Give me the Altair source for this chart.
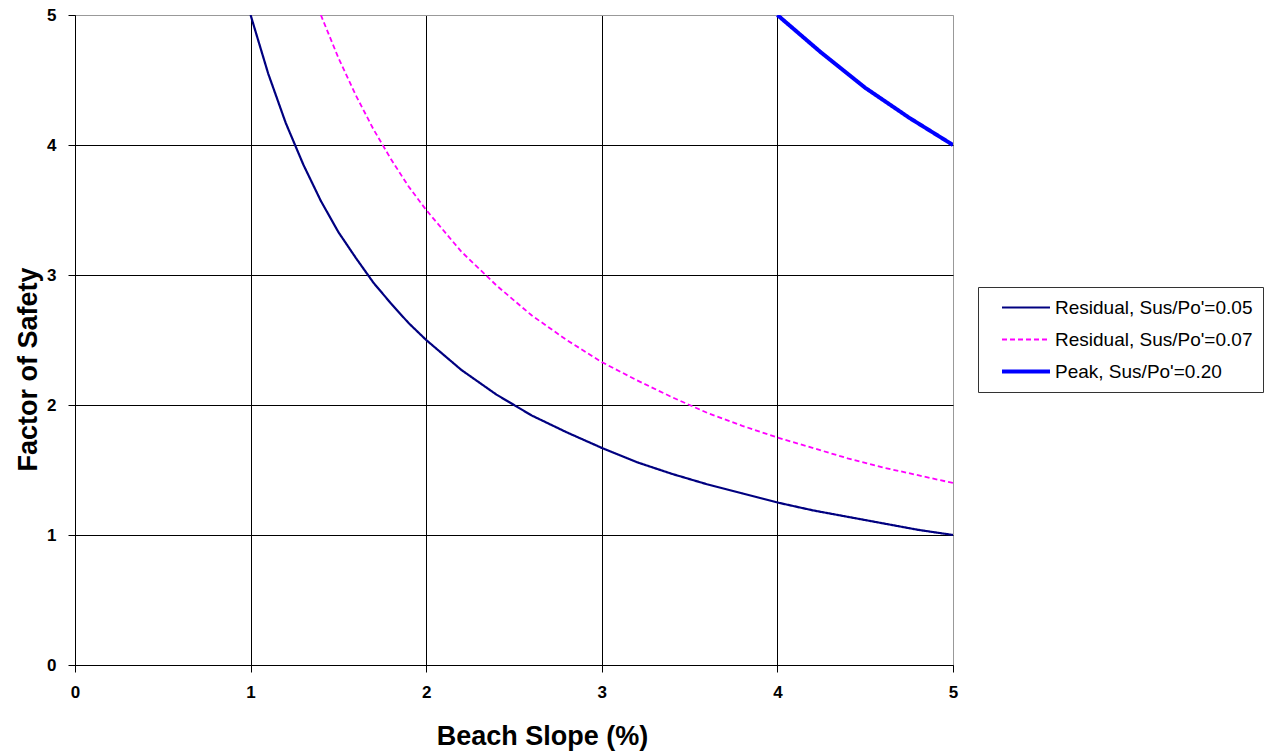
import altair as alt
import pandas as pd

# Factor of safety vs. beach slope for three strength cases
series_names = [
    "Residual, Sus/Po'=0.05",
    "Residual, Sus/Po'=0.07",
    "Peak, Sus/Po'=0.20",
]

slope_r05 = [1.0, 1.1, 1.2, 1.3, 1.4, 1.5, 1.6, 1.7, 1.8, 1.9, 2.0, 2.2, 2.4, 2.5,
             2.6, 2.8, 3.0, 3.2, 3.4, 3.6, 3.8, 4.0, 4.2, 4.4, 4.6, 4.8, 5.0]
fs_r05 = [5.0, 4.55, 4.17, 3.85, 3.57, 3.33, 3.13, 2.94, 2.78, 2.63, 2.5, 2.27, 2.08, 2.0,
          1.92, 1.79, 1.67, 1.56, 1.47, 1.39, 1.32, 1.25, 1.19, 1.14, 1.09, 1.04, 1.0]

slope_r07 = [1.4, 1.5, 1.6, 1.7, 1.8, 1.9, 2.0, 2.2, 2.4, 2.6, 2.8, 3.0, 3.2, 3.4,
             3.6, 3.8, 4.0, 4.2, 4.4, 4.6, 4.8, 5.0]
fs_r07 = [5.0, 4.67, 4.38, 4.12, 3.89, 3.68, 3.5, 3.18, 2.92, 2.69, 2.5, 2.33, 2.19, 2.06,
          1.94, 1.84, 1.75, 1.67, 1.59, 1.52, 1.46, 1.4]

slope_peak = [4.0, 4.25, 4.5, 4.75, 5.0]
fs_peak = [5.0, 4.71, 4.44, 4.21, 4.0]

rows = []
for name, xs, ys in zip(series_names,
                        [slope_r05, slope_r07, slope_peak],
                        [fs_r05, fs_r07, fs_peak]):
    for i, (x, y) in enumerate(zip(xs, ys)):
        rows.append({"series": name, "slope": x, "fs": y, "order": i})
df = pd.DataFrame(rows)

FONT = "Liberation Sans"

grid_color = {"condition": {"test": "datum.value == 5", "value": "#999999"}, "value": "#000000"}

legend = alt.Legend(
    title=None,
    orient="none",
    legendX=903,
    legendY=272,
    symbolType="stroke",
    symbolSize=2300,
    symbolOffset=12,
    clipHeight=21,
    labelFont=FONT,
    labelFontSize=19,
    labelColor="#000000",
    labelLimit=0,
    strokeColor="#333333",
    padding=10,
    rowPadding=11,
    labelOffset=3,
    fillColor="white",
)

axis_style = dict(
    values=[0, 1, 2, 3, 4, 5], format="d", labelFlush=False,
    gridColor=grid_color, gridOpacity=1, gridWidth=1,
    domainColor="#000000", tickColor="#000000", tickSize=7,
    labelFont=FONT, labelFontSize=17, labelFontWeight="bold", labelColor="#000000",
    titleFont=FONT, titleFontSize=27, titleFontWeight="bold", titleColor="#000000",
)

chart = alt.Chart(df).mark_line(clip=True).encode(
    x=alt.X("slope:Q",
            scale=alt.Scale(domain=[0, 5], nice=False),
            axis=alt.Axis(title="Beach Slope (%)", labelPadding=12, titlePadding=23,
                          titleX=467, titleAlign="center", **axis_style)),
    y=alt.Y("fs:Q",
            scale=alt.Scale(domain=[0, 5], nice=False),
            axis=alt.Axis(title="Factor of Safety", labelPadding=12, titlePadding=4,
                          titleY=354, titleAlign="center", **axis_style)),
    color=alt.Color("series:N",
                    scale=alt.Scale(type="ordinal", domain=series_names,
                                    range=["#000080", "#FF00FF", "#0000FF"]),
                    legend=legend),
    strokeDash=alt.StrokeDash("series:N",
                              scale=alt.Scale(type="ordinal", domain=series_names,
                                              range=[[1, 0], [5, 3], [1, 0]]),
                              legend=legend),
    strokeWidth=alt.StrokeWidth("series:N",
                                scale=alt.Scale(type="ordinal", domain=series_names,
                                                range=[2.2, 1.8, 4]),
                                legend=legend),
    order="order:Q",
).properties(
    width=878,
    height=650,
    autosize=alt.AutoSizeParams(type="none"),
    padding={"left": 75, "top": 15, "right": 321, "bottom": 88},
).configure_view(
    stroke="#999999",
    strokeWidth=1,
).configure(
    background="white",
)

chart.save("out.html", embed_options={"renderer": "svg", "actions": False})
